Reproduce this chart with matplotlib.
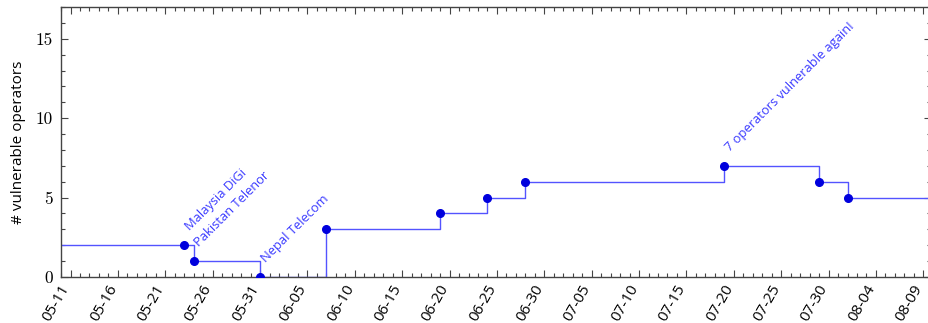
"""
Step plot of vulnerable operators over time, with event annotations.
"""

import pandas as pd
import matplotlib
matplotlib.use('Agg')
import matplotlib.pyplot as plt
import matplotlib.dates as mdates
import matplotlib.transforms as mtransforms
from matplotlib.ticker import MultipleLocator

# ── data ───────────────────────────────────────────────────────────────────
YEAR = 2018
STEP_DATES  = ['05-10', '05-23', '05-24', '05-31', '06-07', '06-19',
               '06-24', '06-28', '07-19', '07-29', '08-01', '08-10']
STEP_VALUES = [2, 2, 1, 0, 3, 4, 5, 6, 7, 6, 5, 5]

MARKER_DATES  = ['05-23', '05-24', '05-31', '06-07', '06-19',
                 '06-24', '06-28', '07-19', '07-29', '08-01']
MARKER_VALUES = [2, 1, 0, 3, 4, 5, 6, 7, 6, 5]

NOTE_DATES  = ['05-23', '05-24', '05-31', '07-19']
NOTE_VALUES = [2, 1, 0, 7]
NOTE_TEXTS  = ['Malaysia DiGi', 'Pakistan Telenor', 'Nepal Telecom',
               '7 operators vulnerable again!']

TICK_START = '05-11'
N_TICKS = 19
X_MIN, X_MAX = '05-10', '08-09 19:30'
Y_MAX = 17

LINE_COLOR   = '#5353ff'
MARKER_COLOR = '#0000dd'
TEXT_COLOR   = '#3a3aff'


def to_dt(md):
    return pd.to_datetime(f'{YEAR}-{md}')


step_x = [to_dt(d) for d in STEP_DATES]
mark_x = [to_dt(d) for d in MARKER_DATES]
note_x = [to_dt(d) for d in NOTE_DATES]

fig = plt.figure(figsize=(9.29, 3.23), dpi=100)
ax = fig.add_axes([0.0657, 0.1424, 0.9365, 0.8356])

ax.plot(step_x, STEP_VALUES, drawstyle='steps-post', color=LINE_COLOR, lw=1.0)
ax.plot(mark_x, MARKER_VALUES, 'o', color=MARKER_COLOR, ms=5.5, zorder=3)

for x, y, txt in zip(note_x, NOTE_VALUES, NOTE_TEXTS):
    ax.annotate(txt, (x, y), xytext=(4, 10), textcoords='offset points',
                rotation=45, rotation_mode='anchor', ha='left', va='baseline',
                color=TEXT_COLOR, fontsize=9.3, family='Open Sans')

# ── axes ───────────────────────────────────────────────────────────────────
ax.set_xlim(to_dt(X_MIN), to_dt(X_MAX))
ax.set_ylim(0, Y_MAX)

ticks = pd.date_range(to_dt(TICK_START), periods=N_TICKS, freq='5D')
ax.set_xticks(ticks)
ax.xaxis.set_major_formatter(mdates.DateFormatter('%m-%d'))
ax.xaxis.set_minor_locator(mdates.DayLocator())
ax.yaxis.set_major_locator(MultipleLocator(5))
ax.yaxis.set_minor_locator(MultipleLocator(1))

ax.tick_params(which='both', direction='in', top=True, right=True,
               color='#444444', width=0.8)
ax.tick_params(which='major', length=5)
ax.tick_params(which='minor', length=3)
ax.tick_params(axis='x', pad=6.5)
ax.tick_params(axis='y', pad=6)

shift = mtransforms.ScaledTranslation(-3 / 72, 0, fig.dpi_scale_trans)
for lbl in ax.get_xticklabels():
    lbl.set_rotation(60)
    lbl.set_ha('right')
    lbl.set_va('center')
    lbl.set_rotation_mode('anchor')
    lbl.set_family('Open Sans')
    lbl.set_fontsize(11)
    lbl.set_transform(lbl.get_transform() + shift)

for lbl in ax.get_yticklabels():
    lbl.set_family('cmr10')
    lbl.set_fontsize(12.5)

ax.set_ylabel('# vulnerable operators', family='Open Sans', fontsize=11,
              labelpad=7)

for sp in ax.spines.values():
    sp.set_color('#444444')
    sp.set_linewidth(1.0)

fig.savefig('out.png', dpi=100)
